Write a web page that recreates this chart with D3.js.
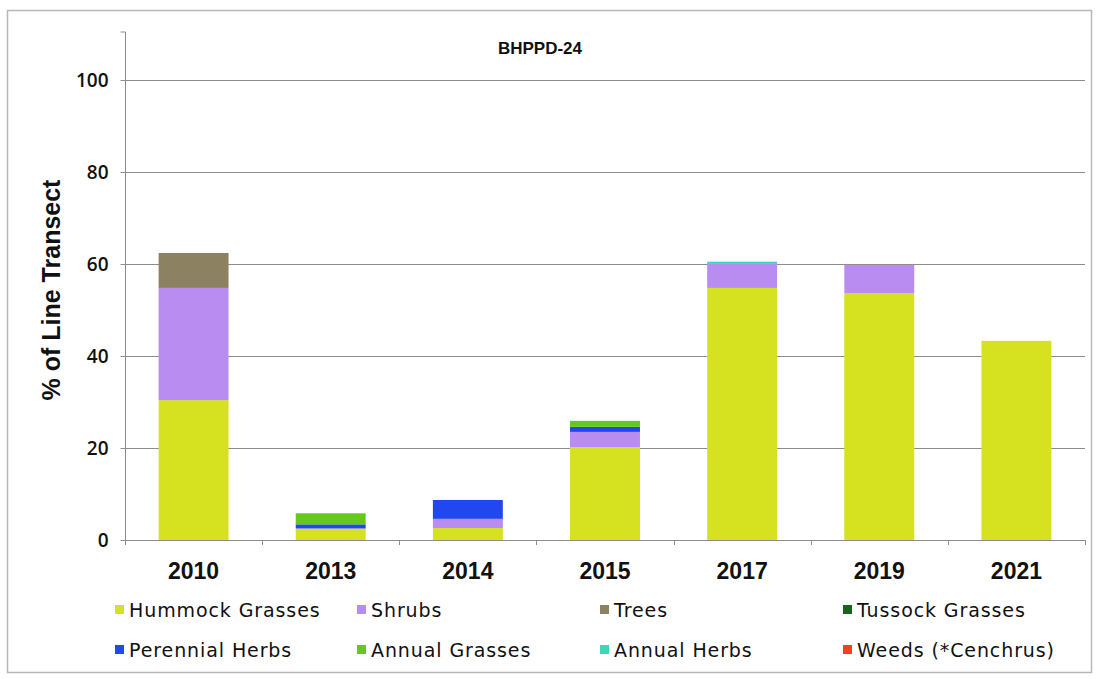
<!DOCTYPE html>
<html><head><meta charset="utf-8">
<script src="https://cdn.jsdelivr.net/npm/d3@7"></script>
<style>body{margin:0;background:#fff}</style>
</head><body>
<svg id="c" width="1096" height="679"></svg>
<script>
const years = ["2010","2013","2014","2015","2017","2019","2021"];
const seriesNames = ["Hummock Grasses","Shrubs","Trees","Tussock Grasses","Perennial Herbs","Annual Grasses","Annual Herbs","Weeds (*Cenchrus)"];
const seriesColors = ["#d6e21f","#b98cf2","#8c8262","#17641b","#2148f0","#66c81a","#3ad8b8","#ff3b26"];
const hummock   = [30.4, 2.5, 2.6, 20.2, 54.8, 53.7, 43.3];
const shrubs    = [24.4, 0,   2.0, 3.3,  5.4,  6.1,  0];
const trees     = [7.6,  0,   0,   0,    0,    0,    0];
const tussock   = [0,    0,   0,   0,    0,    0,    0];
const perHerbs  = [0,    0.9, 4.1, 1.1,  0,    0,    0];
const annGrass  = [0,    2.4, 0,   1.3,  0,    0,    0];
const annHerbs  = [0,    0,   0,   0,    0.3,  0,    0];
const weeds     = [0,    0,   0,   0,    0,    0,    0];
const yTicks = [0,20,40,60,80,100];
const title = "BHPPD-24";
const yLabel = "% of Line Transect";

const seriesVals = [hummock,shrubs,trees,tussock,perHerbs,annGrass,annHerbs,weeds];
const rows = years.map((y,i)=>{const r={year:y}; seriesNames.forEach((s,j)=>r[s]=seriesVals[j][i]); return r;});
const stack = d3.stack().keys(seriesNames)(rows);

const svg = d3.select("#c");
svg.append("rect").attr("x",7.5).attr("y",10.5).attr("width",1084).attr("height",662)
  .attr("fill","#fff").attr("stroke","#b8b8b8").attr("stroke-width",1.5);

const L=125, R=1085, T=34, B=540;
const x = d3.scaleBand().domain(years).range([L,R]).paddingInner(0.49).paddingOuter(0.245);
const y = d3.scaleLinear().domain([0,110]).range([B,T]);

// gridlines
svg.append("g").selectAll("line").data(yTicks.filter(d=>d>0)).join("line")
  .attr("x1",L).attr("x2",R).attr("y1",d=>Math.round(y(d))+0.5).attr("y2",d=>Math.round(y(d))+0.5)
  .attr("stroke","#8c8c8c").attr("stroke-width",1);

// bars
svg.append("g").selectAll("g").data(stack).join("g")
  .attr("fill",(d,i)=>seriesColors[i])
  .selectAll("rect").data(d=>d).join("rect")
  .attr("x",d=>x(d.data.year)).attr("width",x.bandwidth())
  .attr("y",d=>y(d[1])).attr("height",d=>Math.max(0,y(d[0])-y(d[1])));

// y axis
const ya = svg.append("g").attr("transform",`translate(${L+0.5},0)`)
  .call(d3.axisLeft(y).tickValues(yTicks).tickSize(5).tickPadding(12));
ya.select(".domain").attr("d",`M-5,${T-2}H0V${B}`).attr("stroke","#8c8c8c");
ya.selectAll(".tick line").attr("stroke","#8c8c8c");
ya.selectAll("text").attr("font-family","'Open Sans', sans-serif").attr("font-size",19).attr("font-weight",600).attr("fill","#111");

// x axis
const xa = svg.append("g").attr("transform",`translate(0,${B+0.5})`)
  .call(d3.axisBottom(x).tickSize(0).tickPadding(22));
xa.select(".domain").attr("d",`M${L},0H${R}`).attr("stroke","#8c8c8c");
xa.selectAll("text").attr("font-family","Liberation Sans, Arial, sans-serif").attr("font-size",23).attr("font-weight","bold").attr("fill","#111");
// category boundary ticks
const step = x.step();
svg.append("g").selectAll("line").data(d3.range(years.length+1)).join("line")
  .attr("x1",i=>Math.round(L+i*step)+0.5).attr("x2",i=>Math.round(L+i*step)+0.5)
  .attr("y1",B).attr("y2",B+5).attr("stroke","#8c8c8c");

// title
svg.append("text").attr("x",540).attr("y",54).attr("text-anchor","middle")
  .attr("font-family","Liberation Sans, Arial, sans-serif").attr("font-weight","bold").attr("font-size",17).attr("fill","#111").text(title);

// y label
svg.append("text").attr("transform",`translate(60,290) rotate(-90)`).attr("text-anchor","middle")
  .attr("font-family","Liberation Sans, Arial, sans-serif").attr("font-weight","bold").attr("font-size",25).attr("fill","#111").text(yLabel);

// legend
const colX = [115, 357, 600, 843];
const rowY = [610, 650];
const lg = svg.append("g").selectAll("g").data(seriesNames).join("g")
  .attr("transform",(d,i)=>`translate(${colX[i%4]},${rowY[Math.floor(i/4)]})`);
lg.append("rect").attr("x",0).attr("y",-5).attr("width",9).attr("height",9).attr("fill",(d,i)=>seriesColors[i]);
lg.append("text").attr("x",14).attr("y",7).attr("font-family","'DejaVu Sans', sans-serif")
  .attr("font-size",19).attr("letter-spacing",0.9).attr("fill","#111").text(d=>d);
</script>
</body></html>
